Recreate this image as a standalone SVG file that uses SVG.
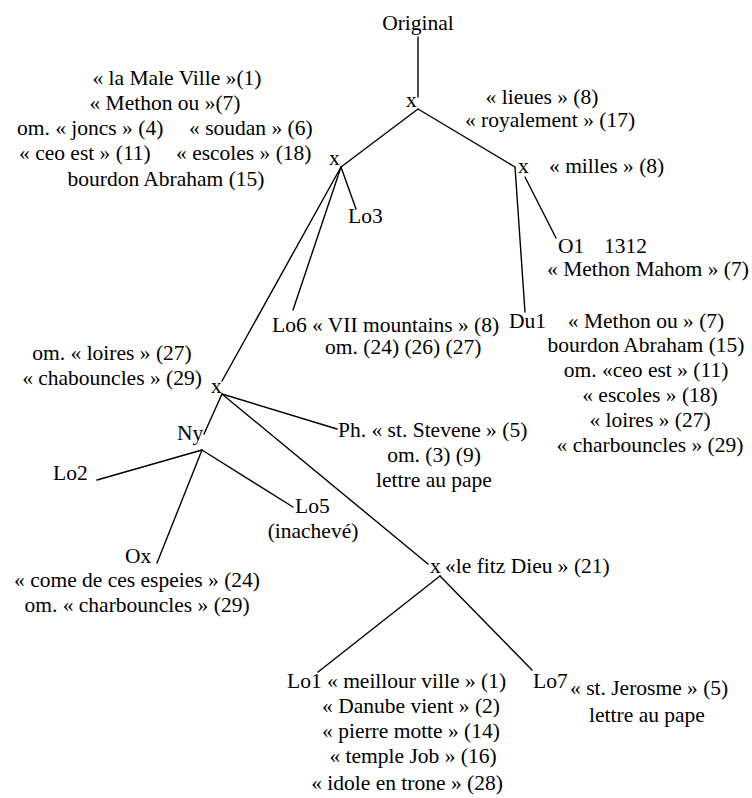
<svg xmlns="http://www.w3.org/2000/svg" width="752" height="798" viewBox="0 0 752 798">
  <style>
    text { font-family: "Liberation Serif", "Times New Roman", serif; font-size: 21.5px; fill: #000; }
    .c { text-anchor: middle; }
    .edge { stroke: #000; stroke-width: 1.4; fill: none; stroke-linecap: round; }
  </style>
  <rect width="752" height="798" fill="#fff"/>

  <!-- stemma branches -->
  <g id="connectors">
    <line class="edge" x1="418" y1="37" x2="418" y2="97"/>
    <line class="edge" x1="418" y1="109" x2="341" y2="167"/>
    <line class="edge" x1="418" y1="109" x2="515" y2="167"/>
    <line class="edge" x1="515" y1="167" x2="525" y2="312"/>
    <line class="edge" x1="525" y1="177" x2="556" y2="238"/>
    <line class="edge" x1="341" y1="167" x2="356" y2="209"/>
    <line class="edge" x1="341" y1="167" x2="293" y2="310"/>
    <line class="edge" x1="341" y1="167" x2="222" y2="381"/>
    <line class="edge" x1="222" y1="394" x2="204" y2="434"/>
    <line class="edge" x1="222" y1="394" x2="337" y2="429"/>
    <line class="edge" x1="222" y1="394" x2="428" y2="564"/>
    <line class="edge" x1="202" y1="450" x2="97" y2="480"/>
    <line class="edge" x1="202" y1="450" x2="157" y2="563"/>
    <line class="edge" x1="202" y1="450" x2="293" y2="507"/>
    <line class="edge" x1="440" y1="576" x2="318" y2="672"/>
    <line class="edge" x1="440" y1="576" x2="532" y2="670"/>
  </g>

  <g id="node-original">
    <text class="c" x="418" y="30">Original</text>
  </g>

  <g id="node-x1">
    <text x="406" y="107">x</text>
    <text class="c" x="542" y="104">« lieues » (8)</text>
    <text class="c" x="550" y="127">« royalement » (17)</text>
  </g>

  <g id="node-x3">
    <text x="329" y="165">x</text>
    <text class="c" x="177" y="85">« la Male Ville »(1)</text>
    <text class="c" x="165" y="110">« Methon ou »(7)</text>
    <text x="17" y="135">om. « joncs » (4)</text>
    <text x="189" y="135">« soudan » (6)</text>
    <text x="19" y="160">« ceo est » (11)</text>
    <text x="176" y="160">« escoles » (18)</text>
    <text class="c" x="166" y="186">bourdon Abraham (15)</text>
  </g>

  <g id="node-x2">
    <text x="518" y="173">x</text>
    <text x="549" y="173">« milles » (8)</text>
  </g>

  <g id="node-lo3">
    <text x="348" y="223">Lo3</text>
  </g>

  <g id="node-o1">
    <text x="558" y="253">O1</text>
    <text x="604" y="253">1312</text>
    <text class="c" x="648" y="276">« Methon Mahom » (7)</text>
  </g>

  <g id="node-lo6">
    <text x="272" y="332">Lo6 « VII mountains » (8)</text>
    <text x="325" y="354">om. (24) (26) (27)</text>
  </g>

  <g id="node-du1">
    <text x="509" y="328">Du1</text>
    <text class="c" x="646" y="328">« Methon ou » (7)</text>
    <text class="c" x="646" y="352">bourdon Abraham (15)</text>
    <text class="c" x="646" y="377">om. «ceo est » (11)</text>
    <text class="c" x="650" y="402">« escoles » (18)</text>
    <text class="c" x="650" y="427">« loires » (27)</text>
    <text class="c" x="650" y="452">« charbouncles » (29)</text>
  </g>

  <g id="node-x4">
    <text x="211" y="393">x</text>
    <text class="c" x="112" y="360">om. « loires » (27)</text>
    <text class="c" x="112" y="385">« chabouncles » (29)</text>
  </g>

  <g id="node-ny">
    <text x="177" y="440">Ny</text>
  </g>

  <g id="node-ph">
    <text x="338" y="437">Ph. « st. Stevene » (5)</text>
    <text class="c" x="434" y="462">om. (3) (9)</text>
    <text class="c" x="434" y="487">lettre au pape</text>
  </g>

  <g id="node-lo2">
    <text x="53" y="480">Lo2</text>
  </g>

  <g id="node-lo5">
    <text x="295" y="513">Lo5</text>
    <text class="c" x="313" y="538">(inachevé)</text>
  </g>

  <g id="node-ox">
    <text x="125" y="563">Ox</text>
    <text class="c" x="137" y="587">« come de ces espeies » (24)</text>
    <text class="c" x="137" y="612">om. « charbouncles » (29)</text>
  </g>

  <g id="node-x5">
    <text x="430" y="573">x</text>
    <text x="445" y="573">«le fitz Dieu » (21)</text>
  </g>

  <g id="node-lo1">
    <text x="287" y="688">Lo1 « meillour ville » (1)</text>
    <text class="c" x="411" y="713">« Danube vient » (2)</text>
    <text class="c" x="411" y="738">« pierre motte » (14)</text>
    <text class="c" x="413" y="763">« temple Job » (16)</text>
    <text class="c" x="407" y="790">« idole en trone » (28)</text>
  </g>

  <g id="node-lo7">
    <text x="533" y="688">Lo7</text>
    <text x="570" y="695">« st. Jerosme » (5)</text>
    <text class="c" x="647" y="722">lettre au pape</text>
  </g>
</svg>
